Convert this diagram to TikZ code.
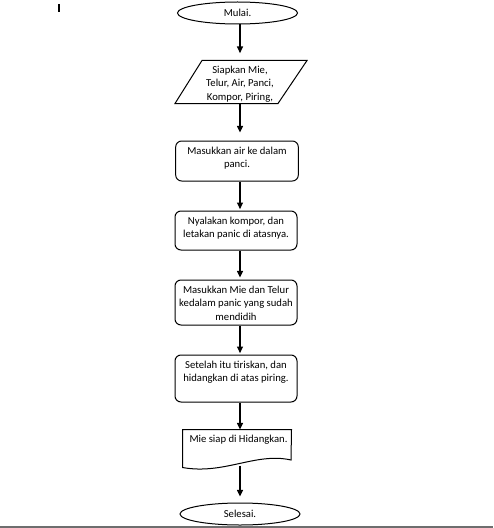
\documentclass[tikz,border=0pt]{standalone}
\usepackage{fontspec}
\setmainfont{Carlito}
\usetikzlibrary{arrows.meta,shapes.geometric}

\tikzset{every picture/.style={line width=0.75pt}}
\tikzset{
  terminal/.style={draw,ellipse,minimum width=90pt,minimum height=16.5pt,inner sep=0pt,font=\fontsize{8}{10}\selectfont},
  prosesbox/.style={draw,rounded corners=4.5pt,minimum width=92pt,inner sep=0pt},
  teks/.style={align=center,font=\fontsize{8}{10}\selectfont,inner sep=0pt},
  panah/.style={-{Triangle[length=5pt,width=4.5pt]},line width=1pt}
}

\begin{document}
\begin{tikzpicture}[x=0.75pt,y=0.75pt,yscale=-1,xscale=1]
\useasboundingbox (0,0) rectangle (493,528);

%Text cursor
\draw [line width=1.6pt] (59,4) -- (59,12) ;
%Bottom border
\draw [color={rgb, 255:red, 110; green, 110; blue, 110 },line width=1.5pt] (0,527) -- (493,527) ;

%Ellipse [id:mulai]
\node [terminal] (mulai) at (237.5,13) {Mulai.};

%Parallelogram [id:input]
\coordinate (inTop) at (240,60.5) ;
\coordinate (inBot) at (240,103.5) ;
\draw  (202,60.5) -- (307,60.5) -- (278,103.5) -- (175,103.5) -- cycle ;
% Text Node
\node [teks] (input) at (240,84) {Siapkan Mie,\\Telur, Air, Panci,\\Kompor, Piring,};

%Rounded Rect [id:air]
\node [prosesbox,minimum height=30pt] (air) at (237,161) {};
% Text Node
\node [teks,anchor=north] at ([yshift=4.5pt]air.north) {Masukkan air ke dalam\\panci.};

%Rounded Rect [id:kompor]
\node [prosesbox,minimum height=29.25pt,minimum width=91.5pt] (kompor) at (236,230.5) {};
% Text Node
\node [teks,anchor=north] at ([yshift=4.5pt]kompor.north) {Nyalakan kompor, dan\\letakan panic di atasnya.};

%Rounded Rect [id:masak]
\node [prosesbox,minimum height=33.75pt,minimum width=91.5pt] (masak) at (236,302.5) {};
% Text Node
\node [teks,anchor=north] at ([yshift=4.5pt]masak.north) {Masukkan Mie dan Telur\\kedalam panic yang sudah\\mendidih};

%Rounded Rect [id:tiris]
\node [prosesbox,minimum height=35.25pt,minimum width=91.5pt] (tiris) at (236,378.5) {};
% Text Node
\node [teks,anchor=north] at ([yshift=4.5pt]tiris.north) {Setelah itu tiriskan, dan\\hidangkan di atas piring.};

%Document [id:hidang]
\node [minimum width=81pt,minimum height=27.75pt,inner sep=0pt] (hidang) at (237,448.5) {};
\draw  (hidang.north west) -- (hidang.north east) -- (291,460) .. controls (256,452) and (224,475) .. (hidang.south west) -- cycle ;
% Text Node
\node [teks,anchor=north west] at (189,435) {Mie siap di Hidangkan.};

%Ellipse [id:selesai]
\node [terminal] (selesai) at (240,514) {Selesai.};

%Arrows
\draw [panah,shorten >=5.5pt] (mulai.south -| inTop) -- (inTop) ;
\draw [panah,shorten >=6pt] (inBot) -- (inBot |- air.north) ;
\draw [panah,shorten >=1pt] (air.south -| inTop) -- (kompor.north -| inTop) ;
\draw [panah,shorten >=1.5pt] (kompor.south -| inTop) -- (masak.north -| inTop) ;
\draw [panah,shorten >=1pt] (masak.south -| inTop) -- (tiris.north -| inTop) ;
\draw [panah] (tiris.south -| inTop) -- (hidang.north -| inTop) ;
\draw [panah,shorten >=4.5pt] ([yshift=-1.5pt]hidang.south -| inTop) -- (selesai.north -| inTop) ;

\end{tikzpicture}
\end{document}
